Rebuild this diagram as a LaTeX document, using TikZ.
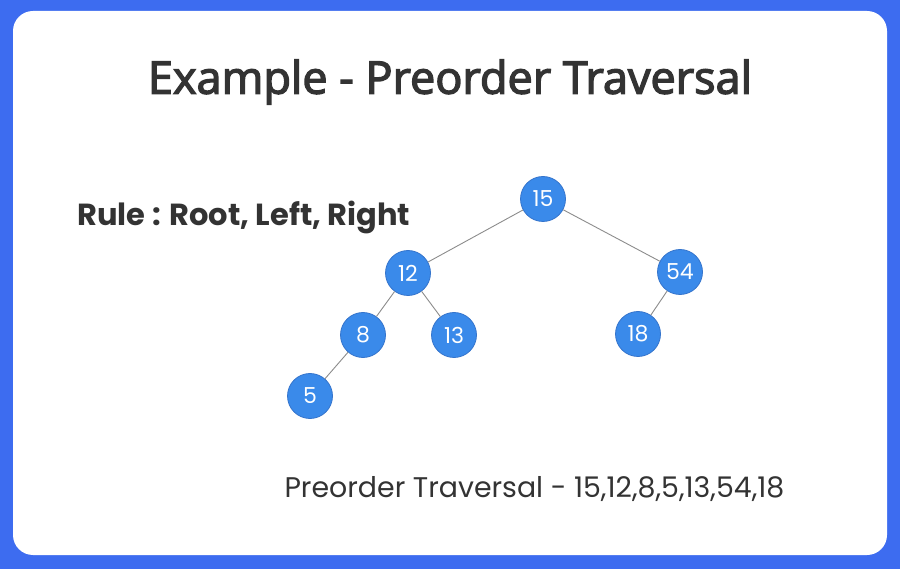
\documentclass[tikz,border=0pt]{standalone}
\usepackage{fontspec}
\setmainfont{Poppins}
\newfontfamily\titlefont[FakeBold=3]{Open Sans}
\usepackage{tikz}
\usetikzlibrary{calc}
\definecolor{frameblue}{RGB}{61,108,240}
\definecolor{nodeblue}{RGB}{58,138,234}
\definecolor{nodeedge}{RGB}{52,116,204}
\definecolor{textgray}{RGB}{51,51,51}
\definecolor{linegray}{RGB}{140,140,140}

\begin{document}
\begin{tikzpicture}[x=1pt,y=-1pt,
        treenode/.style={circle,fill=nodeblue,draw=nodeedge,line width=0.8pt,
            minimum size=45pt,inner sep=0pt,text=white,font=\fontsize{22}{22}\selectfont},
        edge/.style={draw=linegray,line width=0.9pt}]
        \fill[frameblue] (0,0) rectangle (900,569);
        \fill[white,rounded corners=20pt] (13,11) rectangle (887,555);
        \node[text=textgray,font=\titlefont\fontsize{45}{45}\selectfont] (title) at (450,82) {Example - Preorder Traversal};
        \node[text=textgray,anchor=west,font=\bfseries\fontsize{30.5}{30.5}\selectfont] (rule) at (74,217) {Rule : Root, Left, Right};
        \node[treenode] (n15) at (543,199) {15};
        \node[treenode] (n12) at (408,273) {12};
        \node[treenode] (n54) at (680,272) {54};
        \node[treenode] (n8) at (363,335) {8};
        \node[treenode] (n13) at (454,335) {13};
        \node[treenode] (n18) at (638,334) {18};
        \node[treenode] (n5) at (310,396) {5};
        \foreach \a/\b in {n15/n12,n15/n54,n12/n8,n12/n13,n54/n18,n8/n5}
        \draw[edge] (\a) -- (\b);
        \node[text=textgray,anchor=west,font=\fontsize{28.4}{28.4}\selectfont] (result) at (281,489) {Preorder Traversal - 15,12,8,5,13,54,18};
    \end{tikzpicture}
\end{document}
